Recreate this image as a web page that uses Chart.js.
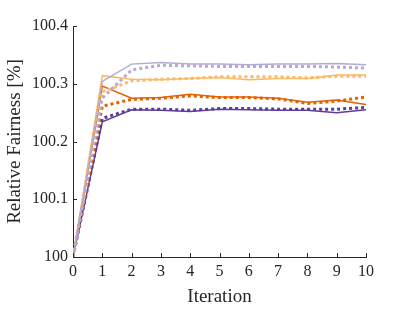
<!DOCTYPE html>
<html>
<head>
<meta charset="utf-8">
<script src="https://cdn.jsdelivr.net/npm/chart.js@4/dist/chart.umd.min.js"></script>
<style>
html,body{margin:0;padding:0;background:#fff;}
#wrap{width:406px;height:313px;}
</style>
</head>
<body>
<div id="wrap"><canvas id="c" width="406" height="313"></canvas></div>
<script>
const iterations = [0,1,2,3,4,5,6,7,8,9,10];
const yTickLabels = ['100','100.1','100.2','100.3','100.4'];
const xTickLabels = ['0','1','2','3','4','5','6','7','8','9','10'];

const lightPurpleSolid  = [100,100.304,100.334,100.337,100.334,100.334,100.333,100.334,100.334,100.335,100.333];
const lightPurpleDotted = [100,100.275,100.324,100.332,100.331,100.330,100.330,100.330,100.330,100.329,100.327];
const lightOrangeSolid  = [100,100.314,100.308,100.307,100.309,100.311,100.307,100.309,100.309,100.315,100.315];
const lightOrangeDotted = [100,100.286,100.305,100.308,100.309,100.312,100.312,100.312,100.310,100.313,100.313];
const darkOrangeSolid   = [100,100.296,100.275,100.276,100.282,100.277,100.277,100.275,100.268,100.272,100.264];
const darkOrangeDotted  = [100,100.261,100.273,100.275,100.279,100.276,100.276,100.274,100.266,100.270,100.277];
const darkPurpleSolid   = [100,100.234,100.255,100.254,100.252,100.256,100.255,100.254,100.254,100.250,100.255];
const darkPurpleDotted  = [100,100.240,100.256,100.256,100.254,100.257,100.257,100.256,100.256,100.256,100.259];

const C_LP = '#b2abd2', C_LO = '#fdb863', C_DO = '#e66101', C_DP = '#5e3c99';
const TXT = '#262626';

function ds(vals, color, dotted){
  return {
    data: iterations.map((x,i)=>({x:x,y:vals[i]})),
    borderColor: color,
    backgroundColor: color,
    borderWidth: dotted ? 3 : 1.5,
    borderDash: dotted ? [3,3] : [],
    borderCapStyle: 'butt',
    pointRadius: 0,
    tension: 0,
    fill: false
  };
}

const inwardTicks = {
  id: 'inwardTicks',
  afterDatasetsDraw(chart){
    const ctx = chart.ctx, xs = chart.scales.x, ys = chart.scales.y;
    const a = chart.chartArea;
    ctx.save();
    ctx.strokeStyle = TXT;
    ctx.lineWidth = 1;
    ctx.beginPath();
    xs.ticks.forEach(t=>{
      const px = Math.round(xs.getPixelForValue(t.value))+0.5;
      ctx.moveTo(px, a.bottom); ctx.lineTo(px, a.bottom-4);
    });
    ys.ticks.forEach(t=>{
      const py = Math.round(ys.getPixelForValue(t.value))+0.5;
      ctx.moveTo(a.left, py); ctx.lineTo(a.left+4, py);
    });
    ctx.stroke();
    ctx.restore();
  }
};

new Chart(document.getElementById('c'), {
  type: 'line',
  data: {
    datasets: [
      ds(lightPurpleDotted, C_LP, true),
      ds(lightOrangeDotted, C_LO, true),
      ds(darkOrangeDotted, C_DO, true),
      ds(darkPurpleDotted, C_DP, true),
      ds(lightPurpleSolid, C_LP, false),
      ds(lightOrangeSolid, C_LO, false),
      ds(darkOrangeSolid, C_DO, false),
      ds(darkPurpleSolid, C_DP, false)
    ]
  },
  options: {
    responsive: false,
    animation: false,
    devicePixelRatio: 1,
    layout: { padding: { top: 26, right: 40, left: 0, bottom: 0 } },
    plugins: { legend: { display: false }, tooltip: { enabled: false } },
    scales: {
      x: {
        type: 'linear', min: 0, max: 10,
        afterFit(s){ s.height = 56; },
        grid: { display: true, drawOnChartArea: false, drawTicks: false },
        border: { display: true, color: TXT, width: 1 },
        ticks: {
          stepSize: 1, padding: 5, color: TXT, maxRotation: 0,
          font: { family: '"Liberation Serif", "Times New Roman", serif', size: 16 },
          callback: (v, i) => xTickLabels[i]
        },
        title: {
          display: true, text: 'Iteration', color: TXT,
          font: { family: '"Liberation Serif", "Times New Roman", serif', size: 19 },
          padding: { top: 0, bottom: 5 }
        }
      },
      y: {
        type: 'linear', min: 100, max: 100.4,
        afterFit(s){ s.width = 73; },
        grid: { display: true, drawOnChartArea: false, drawTicks: false },
        border: { display: true, color: TXT, width: 1 },
        ticks: {
          stepSize: 0.1, padding: 5, color: TXT,
          font: { family: '"Liberation Serif", "Times New Roman", serif', size: 16 },
          callback: (v, i) => yTickLabels[i]
        },
        title: {
          display: true, text: 'Relative Fairness [%]', color: TXT,
          font: { family: '"Liberation Serif", "Times New Roman", serif', size: 19 },
          padding: { top: 4, bottom: 0 }
        }
      }
    }
  },
  plugins: [inwardTicks]
});
</script>
</body>
</html>
